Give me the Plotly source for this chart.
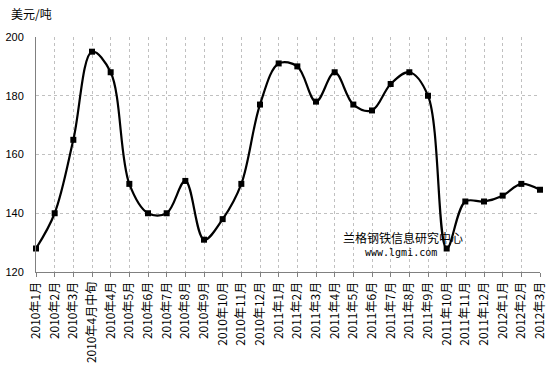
import plotly.graph_objects as go

categories = ["2010年1月", "2010年2月", "2010年3月", "2010年4月中旬", "2010年4月", "2010年5月",
              "2010年6月", "2010年7月", "2010年8月", "2010年9月", "2010年10月", "2010年11月",
              "2010年12月", "2011年1月", "2011年2月", "2011年3月", "2011年4月", "2011年5月",
              "2011年6月", "2011年7月", "2011年8月", "2011年9月", "2011年10月", "2011年11月",
              "2011年12月", "2012年1月", "2012年2月", "2012年3月"]
prices = [128, 140, 165, 195, 188, 150, 140, 140, 151, 131, 138, 150, 177,
          191, 190, 178, 188, 177, 175, 184, 188, 180, 128, 144, 144, 146, 150, 148]
y_ticks = [120, 140, 160, 180, 200]
unit_label = "美元/吨"
watermark = "兰格钢铁信息研究中心"
watermark_url = "www.lgmi.com"

font_cjk = "Noto Sans CJK SC, SimSun, sans-serif"

fig = go.Figure()
fig.add_trace(go.Scatter(
    x=categories, y=prices, mode="lines+markers",
    line=dict(color="black", width=2.2, shape="spline", smoothing=1),
    marker=dict(symbol="square", size=6, color="black"),
    cliponaxis=False, showlegend=False, hoverinfo="skip",
))

fig.update_layout(
    width=553, height=371,
    margin=dict(l=36, r=13, t=37, b=99),
    paper_bgcolor="white", plot_bgcolor="white",
    font=dict(family=font_cjk, size=12, color="black"),
    xaxis=dict(
        type="category", range=[0, len(categories) - 1], automargin=False,
        tickangle=-90, showgrid=True, gridcolor="#c0c0c0", griddash="dot", gridwidth=1,
        showline=True, linecolor="#808080", linewidth=1,
        ticks="outside", ticklen=4, tickcolor="#808080",
        tickfont=dict(family=font_cjk, size=12), zeroline=False,
    ),
    yaxis=dict(
        range=[120, 200], tickvals=y_ticks, showgrid=True, gridcolor="#c0c0c0",
        griddash="dot", gridwidth=1, showline=True, linecolor="#808080", linewidth=1,
        ticks="", ticklabelstandoff=9, zeroline=False, automargin=False,
        tickfont=dict(family="Liberation Sans, Arial, sans-serif", size=11),
    ),
    annotations=[
        dict(text=unit_label, xref="paper", yref="paper", x=-0.054, y=1.098,
             xanchor="left", yanchor="middle", showarrow=False,
             font=dict(family=font_cjk, size=12)),
        dict(text=watermark, xref="paper", yref="paper", x=0.728, y=0.145,
             xanchor="center", yanchor="middle", showarrow=False,
             font=dict(family=font_cjk, size=12)),
        dict(text=watermark_url, xref="paper", yref="paper", x=0.725, y=0.082,
             xanchor="center", yanchor="middle", showarrow=False,
             font=dict(family="DejaVu Sans Mono, monospace", size=10)),
    ],
)

fig.write_html("out.html", config={"displayModeBar": False},
               post_script="document.body.style.margin='0';")
